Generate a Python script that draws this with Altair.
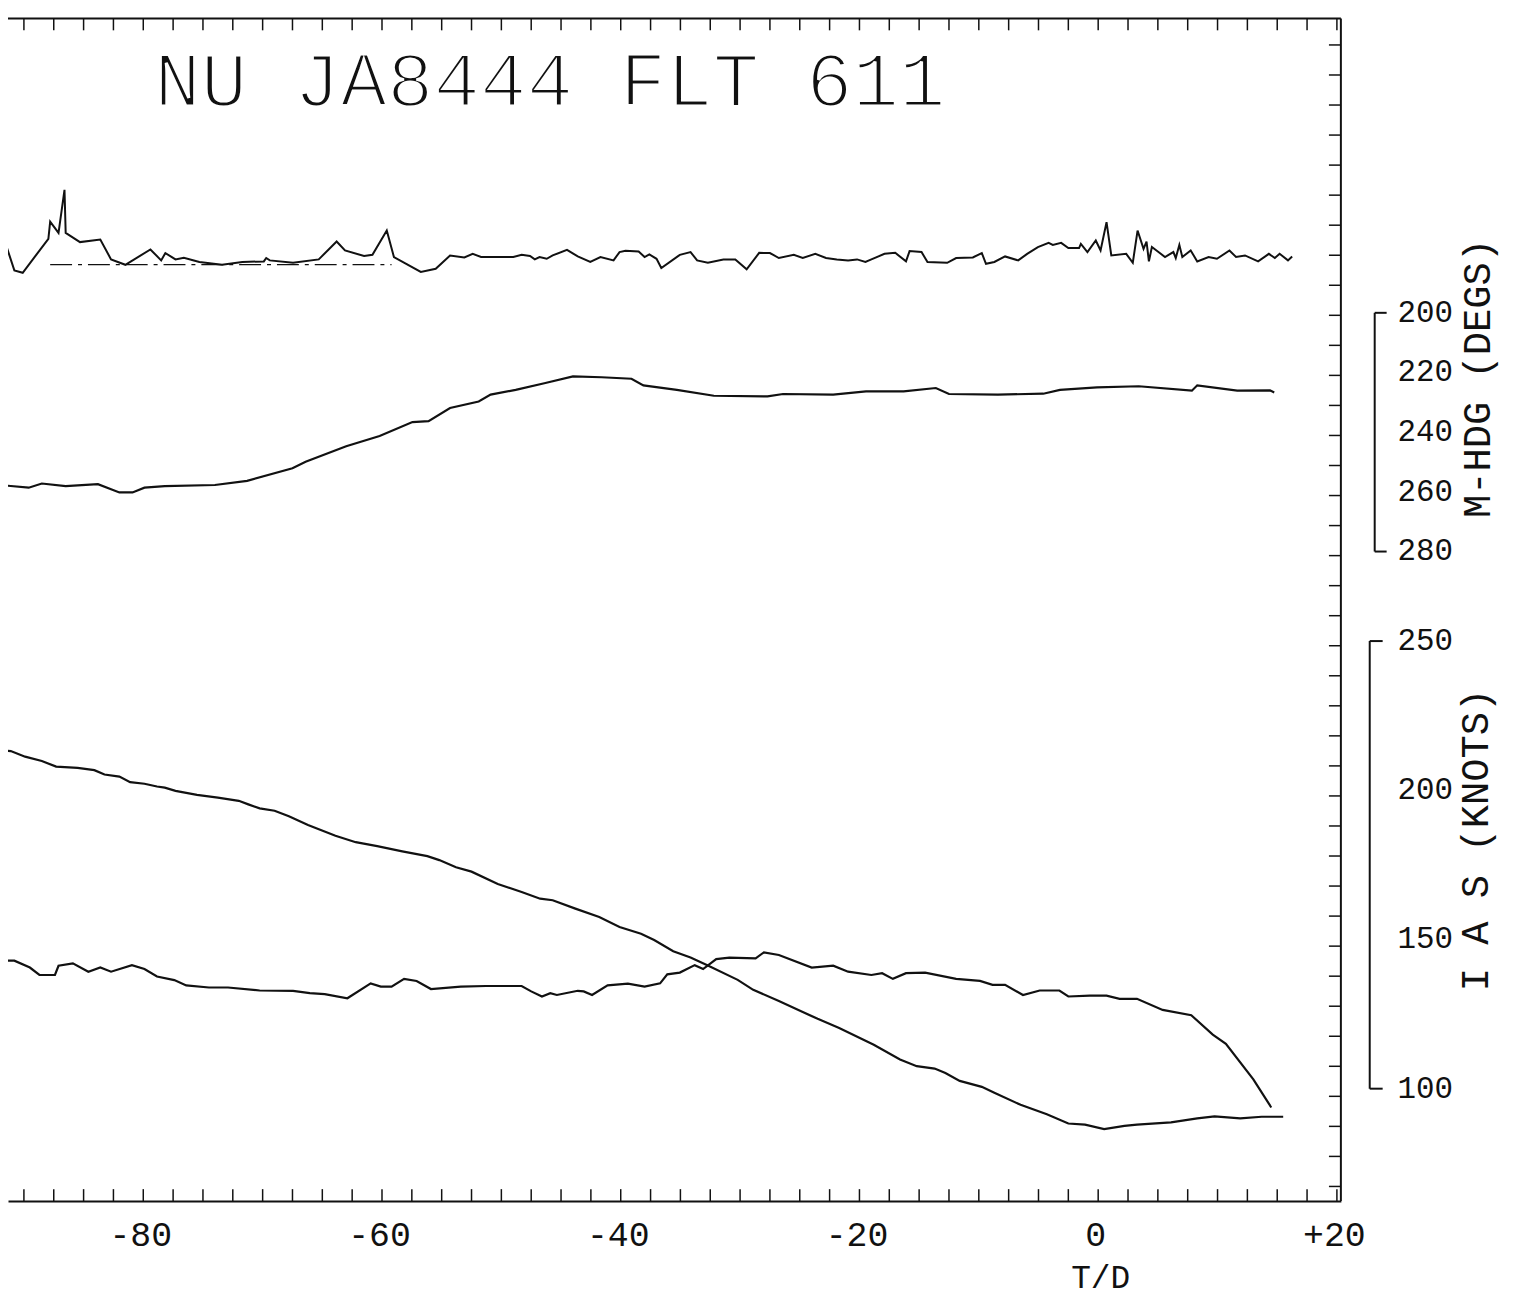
import altair as alt
import pandas as pd

FONT = "Liberation Mono"
INK = "#111111"

# ---------------- data (time relative to touchdown T/D) ----------------
# Radio altitude trace (left scale cropped; feet)
alt_t = [-92.0, -91.1, -89.9, -88.5, -87.3, -85.5, -84.1, -83.25, -82.0, -81.1,
         -79.9, -78.85, -78.2, -77.3, -75.5, -73.75, -72.0, -71.2, -70.25, -69.0,
         -67.8, -66.2, -63.9, -62.2, -60.4, -58.3, -56.2, -55.2, -53.8, -52.5,
         -50.3, -48.3, -46.75, -45.7, -43.8, -41.8, -40.1, -38.3, -37.2, -35.6,
         -34.15, -32.7, -30.2, -28.9, -26.75, -24.75, -23.5, -21.7, -18.8, -16.6,
         -15.2, -13.7, -12.8, -11.6, -9.75, -8.7, -6.5, -4.3, -2.5, -1.1,
         0.5, 2.2, 3.25, 6.1, 8.3, 9.75, 11.9, 13.7, 15.5]
alt_ft = [923, 921, 907, 896, 882, 879, 873, 862, 857, 843,
          839, 832, 829, 821, 811, 804, 796, 787, 777, 771,
          757, 735, 708, 692, 682, 669, 657, 647, 629, 618,
          587, 567, 550, 546, 525, 504, 479, 462, 446, 418,
          402, 382, 346, 321, 293, 265, 248, 225, 183, 146,
          129, 123, 112, 92, 77, 62, 32, 8, -15, -18,
          -29, -21, -18, -12, -2, 3, -2, 2, 2]

# Indicated airspeed (knots)
ias_t = [-92.0, -90.8, -89.5, -88.7, -87.4, -87.1, -85.9, -84.6, -83.6, -82.7,
         -80.95, -79.9, -78.85, -77.4, -76.4, -74.5, -72.9, -70.25, -67.45, -66.05,
         -64.8, -62.9, -60.95, -60.1, -59.2, -58.15, -57.1, -55.9, -53.4, -51.3,
         -48.3, -47.5, -46.6, -45.9, -45.35, -43.6, -43.1, -42.4, -41.1, -39.4,
         -38.0, -36.7, -36.1, -35.05, -33.8, -33.1, -32.0, -30.9, -28.7, -28.0,
         -26.75, -24.0, -22.2, -20.95, -19.0, -18.1, -17.2, -16.1, -14.5, -11.9,
         -9.9, -8.85, -7.8, -6.3, -4.9, -3.25, -2.5, -0.7, 0.7, 1.8,
         3.25, 5.4, 7.8, 9.6, 10.7, 13.0, 14.5]
ias_kt = [142.9, 142.9, 140.6, 138.1, 138.1, 141.2, 142.0, 139.2, 140.6, 139.2,
          141.4, 140.1, 137.6, 136.4, 134.6, 133.9, 133.9, 132.9, 132.8, 132.0,
          131.7, 130.3, 135.3, 134.2, 134.2, 136.8, 136.1, 133.4, 134.2, 134.4,
          134.4, 132.6, 130.9, 132.0, 131.4, 132.8, 132.6, 131.4, 134.6, 135.2,
          134.2, 135.3, 138.3, 138.9, 141.4, 140.1, 143.4, 143.9, 143.7, 145.7,
          144.8, 140.6, 141.2, 139.2, 138.1, 138.7, 136.8, 138.7, 138.9, 136.8,
          136.1, 134.8, 134.8, 131.4, 132.9, 132.9, 130.9, 131.2, 131.2, 130.1,
          130.1, 126.4, 124.6, 118.1, 115.0, 103.1, 93.7]

# Magnetic heading (degrees)
hdg_t = [-92.0, -89.6, -88.5, -86.5, -83.8, -82.0, -80.9, -79.9, -78.2, -74.0,
         -71.3, -67.5, -66.4, -63.0, -60.2, -57.45, -56.1, -54.3, -51.9, -50.9,
         -48.8, -46.4, -44.0, -41.6, -39.1, -38.1, -35.3, -32.2, -27.7, -26.4,
         -22.2, -19.45, -16.3, -13.6, -12.5, -8.4, -4.6, -3.2, -0.1, 3.4,
         7.85, 8.3, 11.65, 14.4, 14.75]
hdg_deg = [257.7, 258.6, 257.2, 258.1, 257.4, 260.2, 260.2, 258.6, 258.1, 257.7,
           256.3, 252.1, 249.9, 244.7, 241.3, 236.6, 236.3, 231.9, 229.7, 227.4,
           225.8, 223.6, 221.3, 221.6, 222.1, 224.3, 225.8, 227.8, 228.0, 227.2,
           227.4, 226.3, 226.3, 225.2, 227.2, 227.4, 227.1, 225.8, 225.0, 224.6,
           226.1, 224.3, 226.1, 226.0, 226.7]

# Vertical acceleration-like trace (left scale cropped; g)
vg_t = [-92.0, -91.65, -90.8, -90.1, -89.0, -87.95, -87.8, -87.1, -86.6, -86.5,
        -85.3, -83.6, -82.7, -81.5, -79.4, -78.5, -78.15, -77.3, -76.6, -75.3,
        -73.4, -71.7, -69.9, -69.7, -69.4, -67.45, -65.3, -63.8, -63.1, -61.5,
        -60.8, -59.6, -59.0, -56.75, -55.5, -54.3, -53.1, -52.4, -51.7, -49.0,
        -48.3, -47.6, -47.2, -46.8, -46.2, -45.7, -44.5, -43.6, -42.55, -41.7,
        -40.6, -40.1, -39.6, -38.5, -38.0, -37.6, -37.0, -36.6, -35.05, -34.15,
        -33.6, -32.7, -31.4, -30.4, -29.45, -28.4, -27.5, -26.75, -25.5, -24.75,
        -23.7, -22.8, -21.9, -20.95, -20.2, -19.5, -19.0, -17.9, -17.0, -16.1,
        -15.8, -14.8, -14.3, -12.65, -11.9, -10.5, -9.75, -9.4, -8.7, -7.8,
        -6.7, -5.95, -5.05, -4.15, -3.8, -3.1, -2.5, -1.6, -1.45, -0.9,
        -0.2, 0.2, 0.7, 1.1, 2.35, 2.9, 3.3, 3.8, 4.05, 4.25,
        4.5, 5.05, 5.6, 6.3, 6.5, 6.8, 7.05, 7.75, 8.3, 9.25,
        9.95, 11.0, 11.55, 12.3, 13.4, 14.3, 14.8, 15.2, 15.9, 16.25]
vg_g = [1.021, 1.126, 0.971, 0.959, 1.046, 1.129, 1.216, 1.159, 1.376, 1.159,
        1.113, 1.126, 1.026, 0.999, 1.076, 1.021, 1.058, 1.026, 1.034, 1.013,
        0.999, 1.013, 1.016, 1.033, 1.021, 1.009, 1.026, 1.116, 1.071, 1.043,
        1.049, 1.171, 1.038, 0.963, 0.979, 1.046, 1.036, 1.054, 1.038, 1.038,
        1.049, 1.043, 1.026, 1.038, 1.029, 1.046, 1.074, 1.041, 1.013, 1.038,
        1.021, 1.063, 1.069, 1.066, 1.038, 1.051, 1.029, 0.983, 1.049, 1.063,
        1.021, 1.009, 1.026, 1.026, 0.976, 1.059, 1.058, 1.033, 1.049, 1.033,
        1.054, 1.033, 1.026, 1.021, 1.026, 1.013, 1.026, 1.054, 1.059, 1.016,
        1.068, 1.063, 1.013, 1.009, 1.033, 1.036, 1.058, 1.004, 1.013, 1.041,
        1.021, 1.054, 1.088, 1.109, 1.099, 1.109, 1.083, 1.083, 1.104, 1.063,
        1.121, 1.071, 1.213, 1.046, 1.054, 1.009, 1.171, 1.079, 1.116, 1.016,
        1.088, 1.063, 1.038, 1.063, 1.033, 1.099, 1.038, 1.071, 1.016, 1.038,
        1.029, 1.071, 1.038, 1.046, 1.016, 1.054, 1.033, 1.054, 1.021, 1.041]

# dash-dot reference segment on the top trace
ref_t1, ref_t2, ref_g = [-87.8], [-59.2], [1.0]

# axis / scale text
x_label_values = [-80, -60, -40, -20, 0, 20]
hdg_labels = [200, 220, 240, 260, 280]
hdg_range = [200, 280]
ias_labels = [250, 200, 150, 100]
ias_range = [100, 250]
title_text = "NU JA8444 FLT 611"
hdg_title = "M-HDG  (DEGS)"
ias_title = "I A S  (KNOTS)"
tick_t = [-90 + 2.5 * i for i in range(45)]
grid_k = list(range(39))

# ---------------- layout ----------------
W, H = 1340, 1189
x_dom = [-91.333, 20.333]
alt_dom = [-210, 2762.5]
vg_dom = [-3.7075, 2.2375]
hdg_dom = [101.333, 497.667]
ias_dom = [62.333, 458.667]
grid_dom = [-0.884, 38.487]

xs = alt.Scale(domain=x_dom, nice=False, zero=False)
xaxis = alt.Axis(values=x_label_values,
                 labelExpr="datum.value > 0 ? '+' + datum.value : '' + datum.value",
                 ticks=False, grid=False, domain=True, domainColor=INK, domainWidth=2,
                 labelFont=FONT, labelFontSize=35, labelColor=INK, labelPadding=17,
                 labelFlush=False, labelOverlap=False, labelOffset=-3,
                 title="T/D", titleFont=FONT, titleFontSize=33, titleFontWeight="normal",
                 titleColor=INK, titleX=1098, titleY=87, titleAlign="center",
                 titleBaseline="alphabetic")


def X(field):
    return alt.X(f"{field}:Q", scale=xs, axis=xaxis)


def ysc(dom, rev=False):
    if rev:
        return alt.Scale(domain=dom, nice=False, zero=False, reverse=True)
    return alt.Scale(domain=dom, nice=False, zero=False)


one = pd.DataFrame({"a": [0]})
ticks_df = pd.DataFrame({"t": tick_t})
grid_df = pd.DataFrame({"k": grid_k})
alt_df = pd.DataFrame({"t": alt_t, "v": alt_ft})
ias_df = pd.DataFrame({"t": ias_t, "v": ias_kt})
hdg_df = pd.DataFrame({"t": hdg_t, "v": hdg_deg})
vg_df = pd.DataFrame({"t": vg_t, "v": vg_g})
ref_df = pd.DataFrame({"t1": ref_t1, "t2": ref_t2, "v": ref_g})

layers = []
# frame (top and right edges; bottom is the x-axis domain line)
layers.append(alt.Chart(one).mark_rule(color=INK, strokeWidth=2).encode(
    x=alt.value(0), x2=alt.value(W), y=alt.value(0)))
layers.append(alt.Chart(one).mark_rule(color=INK, strokeWidth=2).encode(
    x=alt.value(W), y=alt.value(0), y2=alt.value(H)))
# inward ticks bottom/top
layers.append(alt.Chart(ticks_df).mark_rule(color=INK, strokeWidth=1.5).encode(
    x=X("t"), y=alt.value(H - 12), y2=alt.value(H)))
layers.append(alt.Chart(ticks_df).mark_rule(color=INK, strokeWidth=1.5).encode(
    x=X("t"), y=alt.value(0), y2=alt.value(12)))
# inward ticks right
layers.append(alt.Chart(grid_df).mark_rule(color=INK, strokeWidth=1.5).encode(
    y=alt.Y("k:Q", scale=ysc(grid_dom, True), axis=None),
    x=alt.value(W - 12), x2=alt.value(W)))

# data traces
layers.append(alt.Chart(vg_df).mark_line(color=INK, strokeWidth=2, clip=True).encode(
    x=X("t"), y=alt.Y("v:Q", scale=ysc(vg_dom), axis=None)))
layers.append(alt.Chart(ref_df).mark_rule(color=INK, strokeWidth=1.2, strokeDash=[22, 6, 4, 6]).encode(
    x=X("t1"), x2="t2:Q", y=alt.Y("v:Q", scale=ysc(vg_dom), axis=None)))
layers.append(alt.Chart(hdg_df).mark_line(color=INK, strokeWidth=2.2, clip=True).encode(
    x=X("t"), y=alt.Y("v:Q", scale=ysc(hdg_dom, True), axis=None)))
layers.append(alt.Chart(alt_df).mark_line(color=INK, strokeWidth=2.2, clip=True).encode(
    x=X("t"), y=alt.Y("v:Q", scale=ysc(alt_dom), axis=None)))
layers.append(alt.Chart(ias_df).mark_line(color=INK, strokeWidth=2.2, clip=True).encode(
    x=X("t"), y=alt.Y("v:Q", scale=ysc(ias_dom), axis=None)))

# heading scale bracket
hdg_br = pd.DataFrame({"a": [hdg_range[0]], "b": [hdg_range[1]]})
layers.append(alt.Chart(hdg_br).mark_rule(color=INK, strokeWidth=2).encode(
    y=alt.Y("a:Q", scale=ysc(hdg_dom, True), axis=None), y2="b:Q", x=alt.value(W + 34)))
layers.append(alt.Chart(pd.DataFrame({"v": hdg_range})).mark_rule(color=INK, strokeWidth=2).encode(
    y=alt.Y("v:Q", scale=ysc(hdg_dom, True), axis=None), x=alt.value(W + 34), x2=alt.value(W + 46)))
layers.append(alt.Chart(pd.DataFrame({"v": hdg_labels})).mark_text(
    font=FONT, fontSize=31, color=INK, align="left", baseline="middle").encode(
    y=alt.Y("v:Q", scale=ysc(hdg_dom, True), axis=None), x=alt.value(W + 57), text="v:Q"))

# airspeed scale bracket
ias_br = pd.DataFrame({"a": [ias_range[0]], "b": [ias_range[1]]})
layers.append(alt.Chart(ias_br).mark_rule(color=INK, strokeWidth=2).encode(
    y=alt.Y("a:Q", scale=ysc(ias_dom), axis=None), y2="b:Q", x=alt.value(W + 29)))
layers.append(alt.Chart(pd.DataFrame({"v": ias_range})).mark_rule(color=INK, strokeWidth=2).encode(
    y=alt.Y("v:Q", scale=ysc(ias_dom), axis=None), x=alt.value(W + 29), x2=alt.value(W + 42)))
layers.append(alt.Chart(pd.DataFrame({"v": ias_labels})).mark_text(
    font=FONT, fontSize=31, color=INK, align="left", baseline="middle").encode(
    y=alt.Y("v:Q", scale=ysc(ias_dom), axis=None), x=alt.value(W + 57), text="v:Q"))

# rotated axis titles
layers.append(alt.Chart(pd.DataFrame({"s": [hdg_title]})).mark_text(
    font=FONT, fontSize=39, color=INK, angle=270, align="center", baseline="middle").encode(
    x=alt.value(W + 138), y=alt.value(362), text="s:N"))
layers.append(alt.Chart(pd.DataFrame({"s": [ias_title]})).mark_text(
    font=FONT, fontSize=39, color=INK, angle=270, align="center", baseline="middle").encode(
    x=alt.value(W + 136), y=alt.value(826), text="s:N"))

# big header text (thin plotter-like strokes)
layers.append(alt.Chart(pd.DataFrame({"s": [title_text]})).mark_text(
    font=FONT, fontSize=78, color=INK, stroke="white", strokeWidth=3,
    align="left", baseline="alphabetic").encode(
    x=alt.value(147), y=alt.value(88), text="s:N"))

chart = alt.layer(*layers).resolve_scale(y="independent").properties(
    width=W, height=H,
    padding={"left": 0, "top": 7, "right": 165, "bottom": 96},
    autosize=alt.AutoSizeParams(type="none"),
    background="white",
).configure_view(stroke=None)

chart.save("out.html", embed_options={"renderer": "svg", "actions": False})
